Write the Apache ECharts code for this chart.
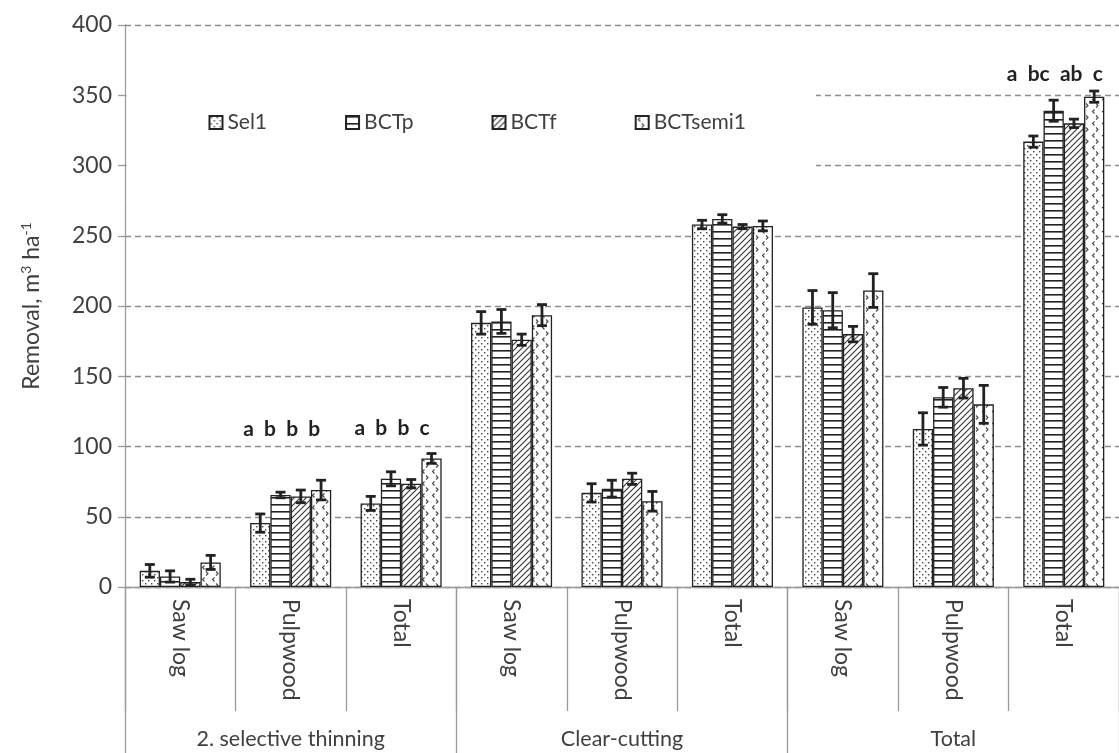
<!DOCTYPE html>
<html>
<head>
<meta charset="utf-8">
<script src="https://cdn.jsdelivr.net/npm/echarts@6/dist/echarts.min.js"></script>
<style>
  html, body { margin: 0; padding: 0; background: #fff; }
  #chart { width: 1119px; height: 753px; }
</style>
</head>
<body>
<div id="chart"></div>
<script>
// Removal by assortment and cutting phase, four treatments
const categories = ['Saw log', 'Pulpwood', 'Total', 'Saw log', 'Pulpwood', 'Total', 'Saw log', 'Pulpwood', 'Total'];
const groups = ['2. selective thinning', 'Clear-cutting', 'Total'];
const seriesNames = ['Sel1', 'BCTp', 'BCTf', 'BCTsemi1'];

const sel1 = [11.5, 45.5, 59.5, 188, 67, 258, 199, 112.5, 317];
const sel1Err = [4.5, 6.5, 5, 8, 6.5, 3, 12, 11.5, 4];
const bctp = [7.5, 65.5, 77, 189, 70, 262, 197, 135, 339];
const bctpErr = [4, 2, 5, 8.5, 6, 3, 12.5, 7, 7.5];
const bctf = [3.5, 64.5, 73.5, 176, 77, 256.5, 180, 141.5, 330];
const bctfErr = [2, 4.5, 3, 4, 4, 1.5, 5.5, 7, 3];
const bctsemi1 = [17.5, 69, 91.5, 193.5, 61, 257, 211, 130, 349];
const bctsemi1Err = [5, 7, 3.5, 7.5, 7, 3.5, 12, 13.5, 4];

// Significance letters: category index, height on the value axis, text
const sigCategory = [1, 2, 8];
const sigLevel = [112, 113, 365];
const sigText = ['a  b  b  b', 'a  b  b  c', 'a  bc  ab  c'];

const yTicks = { min: 0, max: 400, interval: 50 };

const FONT = 'Lato, "Open Sans", sans-serif';
const TEXT = '#404040';
const GAP = 0.266;

function pattern(w, h, draw) {
  const c = document.createElement('canvas');
  c.width = w; c.height = h;
  const ctx = c.getContext('2d');
  ctx.fillStyle = '#fff';
  ctx.fillRect(0, 0, w, h);
  draw(ctx);
  return { image: c, repeat: 'repeat' };
}

const fills = [
  // fine stipple
  pattern(6, 6, ctx => {
    ctx.fillStyle = '#444';
    ctx.fillRect(1, 1, 1.4, 1.4);
    ctx.fillRect(4, 4, 1.4, 1.4);
  }),
  // horizontal lines
  pattern(4, 7, ctx => {
    ctx.fillStyle = '#222';
    ctx.fillRect(0, 0, 4, 1.6);
  }),
  // forward diagonals
  pattern(6, 6, ctx => {
    ctx.strokeStyle = '#333';
    ctx.lineWidth = 1.1;
    ctx.beginPath();
    ctx.moveTo(-1, 7); ctx.lineTo(7, -1);
    ctx.moveTo(-1, 1); ctx.lineTo(1, -1);
    ctx.moveTo(5, 7); ctx.lineTo(7, 5);
    ctx.stroke();
  }),
  // small chevrons
  pattern(10, 12, ctx => {
    ctx.strokeStyle = '#444';
    ctx.lineWidth = 1.1;
    ctx.beginPath();
    ctx.moveTo(4.5, 1.5); ctx.lineTo(2.5, 3.5); ctx.lineTo(4.5, 5.5);
    ctx.moveTo(6, 7.5); ctx.lineTo(8, 9.5); ctx.lineTo(6, 11.5);
    ctx.stroke();
  })
];

const values = [sel1, bctp, bctf, bctsemi1];
const errors = [sel1Err, bctpErr, bctfErr, bctsemi1Err];

const barSeries = seriesNames.map((name, i) => ({
  name: name,
  type: 'bar',
  xAxisIndex: 0,
  barGap: '0%',
  barCategoryGap: (GAP * 100) + '%',
  itemStyle: { color: fills[i], borderColor: '#222', borderWidth: 1.3 },
  data: values[i],
  z: 2
}));

const errorSeries = seriesNames.map((name, i) => ({
  name: name + ' sd',
  type: 'custom',
  xAxisIndex: 0,
  z: 5,
  renderItem: function (params, api) {
    const c = api.value(0), v = api.value(1), e = api.value(2);
    const band = api.size([1, 0])[0];
    const grp = band * (1 - GAP);
    const bw = grp / 4;
    const x = api.coord([c, 0])[0] - grp / 2 + bw * (i + 0.5);
    const yT = api.coord([c, v + e])[1];
    const yB = api.coord([c, v - e])[1];
    const cap = 5;
    const st = { stroke: '#222', lineWidth: 2.8 };
    return {
      type: 'group',
      children: [
        { type: 'line', shape: { x1: x, y1: yT, x2: x, y2: yB }, style: st },
        { type: 'line', shape: { x1: x - cap, y1: yT, x2: x + cap, y2: yT }, style: st },
        { type: 'line', shape: { x1: x - cap, y1: yB, x2: x + cap, y2: yB }, style: st }
      ]
    };
  },
  data: categories.map((_, k) => [k, values[i][k], errors[i][k]])
}));

const letterSeries = {
  type: 'custom',
  name: 'letters',
  xAxisIndex: 0,
  z: 6,
  renderItem: function (params, api) {
    const p = api.coord([api.value(0), api.value(1)]);
    return {
      type: 'text',
      x: p[0] - 9,
      y: p[1],
      style: {
        text: sigText[params.dataIndex],
        fontFamily: FONT,
        fontWeight: 'bold',
        fontSize: 21,
        fill: '#222',
        align: 'center',
        verticalAlign: 'middle'
      }
    };
  },
  data: sigCategory.map((c, k) => [c, sigLevel[k]])
};

const chart = echarts.init(document.getElementById('chart'), null, { renderer: 'canvas' });
chart.setOption({
  animation: false,
  backgroundColor: '#fff',
  textStyle: { fontFamily: FONT, color: TEXT },
  grid: { left: 125, right: -12, top: 25, bottom: 166 },
  legend: {
    data: seriesNames,
    left: 126.5,
    top: 42,
    padding: [70, 70, 71, 82],
    backgroundColor: '#fff',
    itemGap: 78,
    itemWidth: 13,
    itemHeight: 13,
    icon: 'rect',
    textStyle: { fontFamily: FONT, fontSize: 21, color: TEXT }
  },
  xAxis: [
    {
      type: 'category',
      data: categories,
      position: 'bottom',
      axisLine: { show: true, lineStyle: { color: '#9a9a9a', width: 1.3 } },
      axisTick: { show: true, length: 124, lineStyle: { color: '#9a9a9a', width: 1.3 } },
      axisLabel: { rotate: -90, margin: 12, fontSize: 23, color: TEXT, fontFamily: FONT }
    },
    {
      type: 'category',
      data: groups,
      position: 'bottom',
      axisLine: { show: false },
      axisTick: { show: true, length: 170, lineStyle: { color: '#9a9a9a', width: 1.3 } },
      axisLabel: { margin: 141, fontSize: 21.5, color: TEXT, fontFamily: FONT }
    }
  ],
  yAxis: {
    type: 'value',
    min: yTicks.min,
    max: yTicks.max,
    interval: yTicks.interval,
    name: '{n|Removal, m}{s|3}{n| ha}{s|-1}',
    nameLocation: 'middle',
    nameGap: 80,
    nameRotate: 90,
    nameTextStyle: {
      rich: {
        n: { fontSize: 23, color: TEXT, fontFamily: FONT, lineHeight: 26 },
        s: { fontSize: 14, color: TEXT, fontFamily: FONT, verticalAlign: 'top', lineHeight: 14, padding: [0, 0, 10, 0] }
      }
    },
    axisLine: { show: true, lineStyle: { color: '#9a9a9a', width: 1.3 } },
    axisTick: { show: true, length: 7, lineStyle: { color: '#9a9a9a', width: 1.3 } },
    axisLabel: { margin: 13, fontSize: 23, color: TEXT, fontFamily: FONT },
    splitLine: { show: true, lineStyle: { color: '#8c8c8c', width: 1.3, type: [6, 4] } }
  },
  series: barSeries.concat(errorSeries, [letterSeries])
});
</script>
</body>
</html>
